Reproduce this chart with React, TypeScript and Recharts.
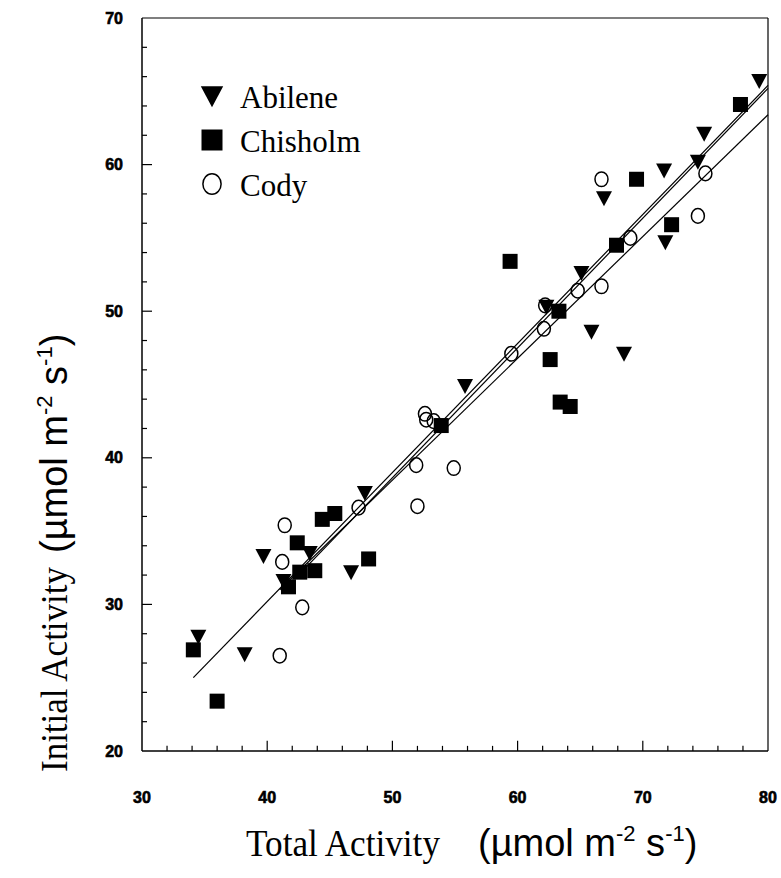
import React from 'react';
import { ScatterChart, Scatter, XAxis, YAxis, ReferenceLine, Legend } from 'recharts';

// values (Total Activity vs Initial Activity)
const abilene = [
  { x: 79.3, y: 65.7 }, { x: 74.9, y: 62.1 }, { x: 74.4, y: 60.2 }, { x: 71.7, y: 59.6 },
  { x: 66.9, y: 57.7 }, { x: 71.8, y: 54.7 }, { x: 65.1, y: 52.6 }, { x: 62.3, y: 50.3 },
  { x: 65.9, y: 48.6 }, { x: 68.5, y: 47.1 }, { x: 55.8, y: 44.9 }, { x: 47.8, y: 37.6 },
  { x: 46.7, y: 32.2 }, { x: 39.7, y: 33.3 }, { x: 43.4, y: 33.5 }, { x: 41.3, y: 31.6 },
  { x: 34.5, y: 27.8 }, { x: 38.2, y: 26.6 },
];

const chisholm = [
  { x: 77.8, y: 64.1 }, { x: 69.5, y: 59.0 }, { x: 72.3, y: 55.9 }, { x: 67.9, y: 54.5 },
  { x: 59.4, y: 53.4 }, { x: 63.3, y: 50.0 }, { x: 62.6, y: 46.7 }, { x: 63.4, y: 43.8 },
  { x: 64.2, y: 43.5 }, { x: 53.9, y: 42.2 }, { x: 48.1, y: 33.1 }, { x: 45.4, y: 36.2 },
  { x: 44.4, y: 35.8 }, { x: 42.4, y: 34.2 }, { x: 42.6, y: 32.2 }, { x: 43.8, y: 32.3 },
  { x: 41.7, y: 31.2 }, { x: 34.1, y: 26.9 }, { x: 36.0, y: 23.4 },
];

const cody = [
  { x: 66.7, y: 59.0 }, { x: 75.0, y: 59.4 }, { x: 74.4, y: 56.5 }, { x: 69.0, y: 55.0 },
  { x: 66.7, y: 51.7 }, { x: 64.8, y: 51.4 }, { x: 62.2, y: 50.4 }, { x: 62.1, y: 48.8 },
  { x: 59.5, y: 47.1 }, { x: 52.6, y: 43.0 }, { x: 52.7, y: 42.6 }, { x: 53.3, y: 42.5 },
  { x: 51.9, y: 39.5 }, { x: 54.9, y: 39.3 }, { x: 52.0, y: 36.7 }, { x: 47.3, y: 36.6 },
  { x: 41.4, y: 35.4 }, { x: 41.2, y: 32.9 }, { x: 42.8, y: 29.8 }, { x: 41.0, y: 26.5 },
];

// regression lines (end points)
const abileneFit = [{ x: 34.1, y: 25.0 }, { x: 80, y: 65.4 }];
const chisholmFit = [{ x: 42.5, y: 32.0 }, { x: 80, y: 65.2 }];
const codyFit = [{ x: 41.0, y: 31.0 }, { x: 80, y: 63.4 }];

const xTicks = [30, 40, 50, 60, 70, 80];
const yTicks = [20, 30, 40, 50, 60, 70];
const xMinor = [32, 34, 36, 38, 42, 44, 46, 48, 52, 54, 56, 58, 62, 64, 66, 68, 72, 74, 76, 78];
const xMajor = [40, 50, 60, 70];
const yMinor = [22, 24, 26, 28, 32, 34, 36, 38, 42, 44, 46, 48, 52, 54, 56, 58, 62, 64, 66, 68];
const yMajor = [30, 40, 50, 60];

const serif = '"Liberation Serif", "Times New Roman", serif';
const sans = '"Liberation Sans", Arial, sans-serif';

const Tri = ({ cx, cy, s = 1 }: any) => (
  <path d={`M${cx - 8 * s},${cy - 7 * s} L${cx + 8 * s},${cy - 7 * s} L${cx},${cy + 8 * s} Z`} fill="#000" />
);
const Sq = ({ cx, cy, s = 1 }: any) => (
  <rect x={cx - 7.5 * s} y={cy - 7.5 * s} width={15 * s} height={15 * s} fill="#000" />
);
const Circ = ({ cx, cy, s = 1 }: any) => (
  <ellipse cx={cx} cy={cy} rx={6.5 * s} ry={7.3 * s} fill="none" stroke="#000" strokeWidth={1.5} />
);

const series = [
  { name: 'Abilene', data: abilene, Mark: Tri },
  { name: 'Chisholm', data: chisholm, Mark: Sq },
  { name: 'Cody', data: cody, Mark: Circ },
];

const renderLegend = () => (
  <svg width={200} height={140}>
    {series.map((s, i) => {
      const cy = 22 + i * 44;
      return (
        <g key={s.name}>
          <s.Mark cx={22} cy={cy} s={1.4} />
          <text x={50} y={cy + 12} fontFamily={serif} fontSize={31} fill="#000">{s.name}</text>
        </g>
      );
    })}
  </svg>
);

const Units = ({ x, y }: any) => (
  <text x={x} y={y} fontFamily={sans} fontSize={38} fill="#000">
    (µmol m<tspan dy={-15} fontSize={22}>-2</tspan>
    <tspan dy={15}> s</tspan>
    <tspan dy={-15} fontSize={22}>-1</tspan>
    <tspan dy={15}>)</tspan>
  </text>
);

const XTitle = () => (
  <g>
    <text x={246} y={856} fontFamily={serif} fontSize={37} fill="#000" textLength={194} lengthAdjust="spacingAndGlyphs">
      Total Activity
    </text>
    <Units x={478} y={856} />
  </g>
);

const YTitle = () => (
  <g transform="rotate(-90)">
    <text x={-772} y={67} fontFamily={serif} fontSize={37} fill="#000" textLength={205} lengthAdjust="spacingAndGlyphs">
      Initial Activity
    </text>
    <Units x={-553} y={67} />
  </g>
);

const tickFont = { fill: '#000', stroke: '#000', strokeWidth: 0.6, fontSize: 16, fontWeight: 'bold', fontFamily: sans };

export default function App() {
  return (
    <div style={{ position: 'absolute', left: 0, top: 0, background: '#fff' }}>
      <ScatterChart width={781} height={878} margin={{ top: 18, right: 13, bottom: 0, left: 0 }}>
        <XAxis
          type="number"
          dataKey="x"
          domain={[30, 80]}
          ticks={xTicks}
          tickLine={false}
          tickSize={0}
          tickMargin={41}
          height={127}
          axisLine={{ stroke: '#000', strokeWidth: 1.5 }}
          tick={tickFont}
          label={{ content: () => <XTitle /> }}
        />
        <YAxis
          type="number"
          dataKey="y"
          domain={[20, 70]}
          ticks={yTicks}
          tickLine={false}
          tickSize={0}
          tickMargin={19}
          width={142}
          axisLine={{ stroke: '#000', strokeWidth: 1.5 }}
          tick={tickFont}
          label={{ content: () => <YTitle /> }}
        />
        <ReferenceLine y={70} stroke="#000" strokeWidth={1.2} />
        <ReferenceLine x={80} stroke="#000" strokeWidth={1.2} />
        {xMinor.map((v) => (
          <ReferenceLine key={'xm' + v} ifOverflow="visible" segment={[{ x: v, y: 20 }, { x: v, y: 20.35 }]} stroke="#000" strokeWidth={1.2} />
        ))}
        {xMajor.map((v) => (
          <ReferenceLine key={'xM' + v} ifOverflow="visible" segment={[{ x: v, y: 20 }, { x: v, y: 20.7 }]} stroke="#000" strokeWidth={1.2} />
        ))}
        {yMinor.map((v) => (
          <ReferenceLine key={'ym' + v} ifOverflow="visible" segment={[{ x: 30, y: v }, { x: 30.4, y: v }]} stroke="#000" strokeWidth={1.2} />
        ))}
        {yMajor.map((v) => (
          <ReferenceLine key={'yM' + v} ifOverflow="visible" segment={[{ x: 30, y: v }, { x: 30.8, y: v }]} stroke="#000" strokeWidth={1.2} />
        ))}
        <ReferenceLine segment={abileneFit} stroke="#000" strokeWidth={1.2} />
        <ReferenceLine segment={chisholmFit} stroke="#000" strokeWidth={1.2} />
        <ReferenceLine segment={codyFit} stroke="#000" strokeWidth={1.2} />
        {series.map((s) => (
          <Scatter
            key={s.name}
            name={s.name}
            data={s.data}
            fill="#000"
            isAnimationActive={false}
            shape={(p: any) => <s.Mark cx={p.cx} cy={p.cy} />}
          />
        ))}
        <Legend
          layout="vertical"
          align="center"
          verticalAlign="middle"
          content={renderLegend}
          wrapperStyle={{ left: 190, top: 74, width: 200, height: 140 }}
        />
      </ScatterChart>
    </div>
  );
}
